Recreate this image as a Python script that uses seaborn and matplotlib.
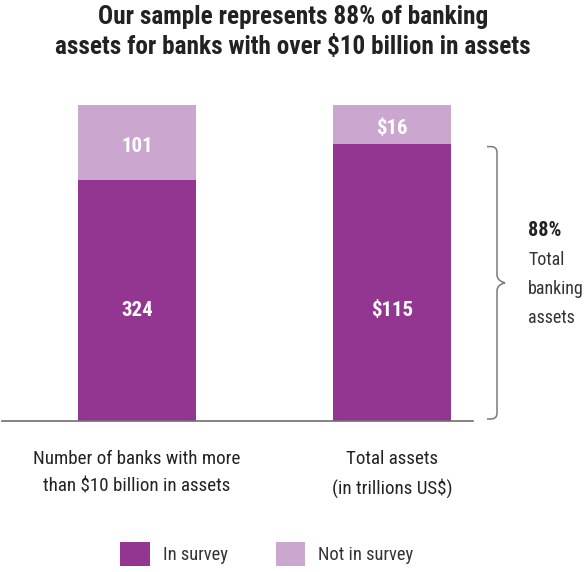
import matplotlib
matplotlib.use("Agg")
import matplotlib.pyplot as plt
from matplotlib.patches import Patch, PathPatch
from matplotlib.path import Path
import seaborn as sns
import pandas as pd

categories = ["Number of banks with more\nthan $10 billion in assets",
              "Total assets\n(in trillions US$)"]
in_survey = [324, 115]
not_in_survey = [101, 16]
in_labels = ["324", "$115"]
out_labels = ["101", "$16"]
share_label = "88%"
share_text = "Total\nbanking\nassets"
title = "Our sample represents 88% of banking\nassets for banks with over $10 billion in assets"

DARK = "#933692"
LIGHT = "#CBA7CF"
TEXT = "#222222"

sns.set_theme(style="white")
plt.rcParams["font.family"] = ["Roboto Condensed", "Liberation Sans Narrow",
                               "DejaVu Sans"]
plt.rcParams["font.stretch"] = "condensed"

W, H = 586, 572
fig = plt.figure(figsize=(W / 100, H / 100), dpi=100)

# axes placed in pixel terms: baseline at y=421, 100% at y=105
ax_left, ax_right = 2, 473
ax_top, ax_bot = 105, 421
ax = fig.add_axes([ax_left / W, 1 - ax_bot / H,
                   (ax_right - ax_left) / W, (ax_bot - ax_top) / H])

totals = [a + b for a, b in zip(in_survey, not_in_survey)]
df = pd.DataFrame({
    "category": categories,
    "total": [1.0 for _ in totals],
    "in_share": [a / t for a, t in zip(in_survey, totals)],
})

bw = 118 / 255
sns.barplot(data=df, x="category", y="total", color=LIGHT, width=bw,
            saturation=1, ax=ax, linewidth=0)
sns.barplot(data=df, x="category", y="in_share", color=DARK, width=bw,
            saturation=1, ax=ax, linewidth=0)

px_per_x = 255
x0_px = 137
ax.set_xlim((ax_left - x0_px) / px_per_x, (ax_right - x0_px) / px_per_x)
ax.set_ylim(0, 1)

# labels inside bars
label_y = (ax_bot - 311) / (ax_bot - ax_top)
for i, (sh, lo, hi) in enumerate(zip(df["in_share"], in_labels, out_labels)):
    ax.text(i, label_y, lo, ha="center", va="center", color="white",
            fontsize=15, fontweight="bold")
    ax.text(i, (1 + sh) / 2 - 0.012, hi, ha="center", va="center",
            color="white", fontsize=15, fontweight="bold")

ax.set_xlabel("")
ax.set_ylabel("")
ax.set_yticks([])
ax.tick_params(axis="x", length=0, pad=21, labelsize=13.7, colors=TEXT)
for s in ["top", "left", "right"]:
    ax.spines[s].set_visible(False)
ax.spines["bottom"].set_color("#6e6e6e")
ax.spines["bottom"].set_linewidth(1.2)
for lab in ax.get_xticklabels():
    lab.set_linespacing(1.65)

# curly bracket spanning the in-survey share of total assets
def px_x(p):
    return (p - x0_px) / px_per_x

def px_y(p):
    return (ax_bot - p) / (ax_bot - ax_top)

top_y = df["in_share"][1] * (ax_bot - ax_top)
b_top = ax_bot - top_y + 3
b_bot = ax_bot - 2
b_mid = (b_top + b_bot) / 2
xl, xv, xt = 487, 497, 505
r = 6
verts = [
    (xl, b_top), (xv - r, b_top),
    (xv, b_top), (xv, b_top + r),
    (xv, b_mid - 8),
    (xv, b_mid - 2), (xt, b_mid),
    (xv, b_mid + 2), (xv, b_mid + 8),
    (xv, b_bot - r),
    (xv, b_bot), (xv - r, b_bot),
    (xl, b_bot),
]
codes = [Path.MOVETO, Path.LINETO,
         Path.CURVE3, Path.CURVE3,
         Path.LINETO,
         Path.CURVE3, Path.CURVE3,
         Path.CURVE3, Path.CURVE3,
         Path.LINETO,
         Path.CURVE3, Path.CURVE3,
         Path.LINETO]
path = Path([(px_x(x), px_y(y)) for x, y in verts], codes)
ax.add_patch(PathPatch(path, facecolor="none", edgecolor="#7a7a7a",
                       linewidth=1.1, clip_on=False))

fig.text(528 / W, 1 - 230 / H, share_label, ha="left", va="center",
         fontsize=14.5, fontweight="bold", color=TEXT)
fig.text(528 / W, 1 - 289 / H, share_text, ha="left", va="center",
         fontsize=13, color="#333333", linespacing=1.76)

fig.text(0.5, 1 - 32 / H, title, ha="center", va="center", fontsize=18.2,
         fontweight="bold", color=TEXT, linespacing=1.3)

handles = [Patch(facecolor=DARK, edgecolor="none", label="In survey"),
           Patch(facecolor=LIGHT, edgecolor="none", label="Not in survey")]
fig.legend(handles=handles, loc="center", bbox_to_anchor=(267 / W, 1 - 554 / H),
           ncol=2, frameon=False, fontsize=13.3, handlelength=1.6,
           handleheight=1.6, handletextpad=0.7, columnspacing=2.6,
           labelcolor="#333333")

fig.savefig("out.png", dpi=100)
